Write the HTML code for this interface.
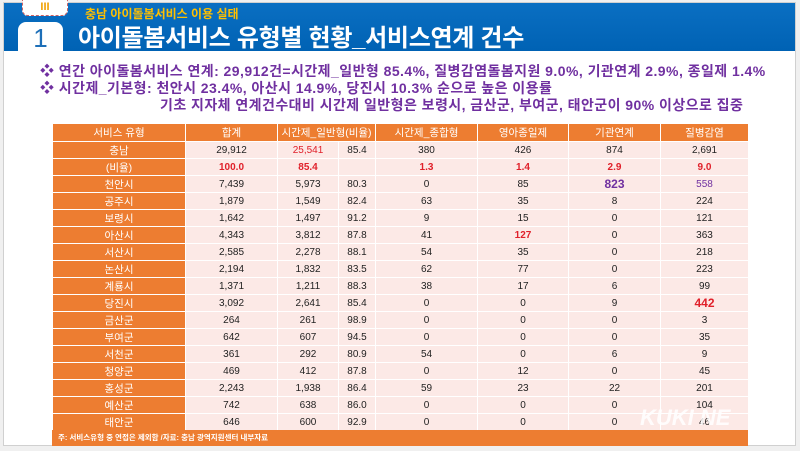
<!DOCTYPE html>
<html><head><meta charset="utf-8"><style>
*{margin:0;padding:0;box-sizing:border-box}
body{width:800px;height:451px;background:#f0f0f0;position:relative;overflow:hidden;font-family:"Liberation Sans","Noto Sans CJK KR",sans-serif}
.slide{position:absolute;left:3px;top:2px;width:793px;height:444px;background:#fff;border:1px solid #d0d0d0}
.hdr{position:absolute;left:4px;top:3px;width:791px;height:48px;background:linear-gradient(#0a6fc2,#0062b4)}
.tab{position:absolute;left:22px;top:0;width:46px;height:16px;background:#fff;border:1px dashed #d06060;border-top:none;border-radius:0 0 6px 6px;color:#f0a000;font-size:11px;font-weight:bold;text-align:center;line-height:14px}
.box{position:absolute;left:18px;top:22px;width:45px;height:30px;background:#fff;border-radius:8px 8px 0 0;color:#1d6fb8;font-size:26px;text-align:center;line-height:32px}
.sub{position:absolute;left:85px;top:5px;color:#ffc000;font-size:12px;font-weight:bold}
.title{position:absolute;left:78px;top:18px;color:#fff;font-size:24px;font-weight:bold;letter-spacing:-0.3px}
.t{position:absolute;color:#7030a0;font-size:14px;font-weight:bold;white-space:nowrap;letter-spacing:0.45px}
table{position:absolute;left:52px;top:123px;width:696px;border-collapse:collapse;font-size:10px;table-layout:fixed}
td{height:17px;text-align:center;border:1px solid #fff;background:#fce9e6;color:#222;padding:0}
tr.h td{height:18px;background:#ed7d31;color:#fff;font-size:10.5px}
td.n{background:#ed7d31;color:#fff;font-size:10.5px}
.r{color:#e0202a;font-weight:bold}
.p{color:#7030a0;font-weight:bold;font-size:12px}
.foot{position:absolute;left:52px;top:430px;width:696px;height:16px;background:#ed7d31;color:#fff;font-size:7.5px;font-weight:bold;padding-left:6px;line-height:16px}
.wm{position:absolute;left:640px;top:405px;color:rgba(255,255,255,0.85);font-size:22px;font-weight:bold;font-style:italic}
</style></head><body>
<div class="slide"></div>
<div class="hdr"></div>
<div class="tab">III</div>
<div class="box">1</div>
<div class="sub">충남 아이돌봄서비스 이용 실태</div>
<div class="title">아이돌봄서비스 유형별 현황_서비스연계 건수</div>
<div class="t" style="left:40px;top:61px">❖ 연간 아이돌봄서비스 연계: 29,912건=시간제_일반형 85.4%, 질병감염돌봄지원 9.0%, 기관연계 2.9%, 종일제 1.4%</div>
<div class="t" style="left:40px;top:78px">❖ 시간제_기본형: 천안시 23.4%, 아산시 14.9%, 당진시 10.3% 순으로 높은 이용률</div>
<div class="t" style="left:160px;top:95px">기초 지자체 연계건수대비 시간제 일반형은 보령시, 금산군, 부여군, 태안군이 90% 이상으로 집중</div>
<table>
<colgroup><col style="width:133px"><col style="width:92px"><col style="width:61px"><col style="width:37px"><col style="width:102px"><col style="width:91px"><col style="width:92px"><col style="width:88px"></colgroup>
<tr class="h"><td>서비스 유형</td><td>합계</td><td colspan="2">시간제_일반형(비율)</td><td>시간제_종합형</td><td>영아종일제</td><td>기관연계</td><td>질병감염</td></tr>
<tr><td class="n">충남</td><td>29,912</td><td class="r" style="font-weight:normal">25,541</td><td>85.4</td><td>380</td><td>426</td><td>874</td><td>2,691</td></tr>
<tr><td class="n">(비율)</td><td class="r">100.0</td><td class="r">85.4</td><td></td><td class="r">1.3</td><td class="r">1.4</td><td class="r">2.9</td><td class="r">9.0</td></tr>
<tr><td class="n">천안시</td><td>7,439</td><td>5,973</td><td>80.3</td><td>0</td><td>85</td><td class="p">823</td><td style="color:#7030a0">558</td></tr>
<tr><td class="n">공주시</td><td>1,879</td><td>1,549</td><td>82.4</td><td>63</td><td>35</td><td>8</td><td>224</td></tr>
<tr><td class="n">보령시</td><td>1,642</td><td>1,497</td><td>91.2</td><td>9</td><td>15</td><td>0</td><td>121</td></tr>
<tr><td class="n">아산시</td><td>4,343</td><td>3,812</td><td>87.8</td><td>41</td><td class="r">127</td><td>0</td><td>363</td></tr>
<tr><td class="n">서산시</td><td>2,585</td><td>2,278</td><td>88.1</td><td>54</td><td>35</td><td>0</td><td>218</td></tr>
<tr><td class="n">논산시</td><td>2,194</td><td>1,832</td><td>83.5</td><td>62</td><td>77</td><td>0</td><td>223</td></tr>
<tr><td class="n">계룡시</td><td>1,371</td><td>1,211</td><td>88.3</td><td>38</td><td>17</td><td>6</td><td>99</td></tr>
<tr><td class="n">당진시</td><td>3,092</td><td>2,641</td><td>85.4</td><td>0</td><td>0</td><td>9</td><td class="r" style="font-size:12px">442</td></tr>
<tr><td class="n">금산군</td><td>264</td><td>261</td><td>98.9</td><td>0</td><td>0</td><td>0</td><td>3</td></tr>
<tr><td class="n">부여군</td><td>642</td><td>607</td><td>94.5</td><td>0</td><td>0</td><td>0</td><td>35</td></tr>
<tr><td class="n">서천군</td><td>361</td><td>292</td><td>80.9</td><td>54</td><td>0</td><td>6</td><td>9</td></tr>
<tr><td class="n">청양군</td><td>469</td><td>412</td><td>87.8</td><td>0</td><td>12</td><td>0</td><td>45</td></tr>
<tr><td class="n">홍성군</td><td>2,243</td><td>1,938</td><td>86.4</td><td>59</td><td>23</td><td>22</td><td>201</td></tr>
<tr><td class="n">예산군</td><td>742</td><td>638</td><td>86.0</td><td>0</td><td>0</td><td>0</td><td>104</td></tr>
<tr><td class="n">태안군</td><td>646</td><td>600</td><td>92.9</td><td>0</td><td>0</td><td>0</td><td>46</td></tr>
</table>
<div class="foot">주: 서비스유형 중 연접은 제외함 /자료: 충남 광역지원센터 내부자료</div>
<div class="wm">KUKI NE</div>
</body></html>
